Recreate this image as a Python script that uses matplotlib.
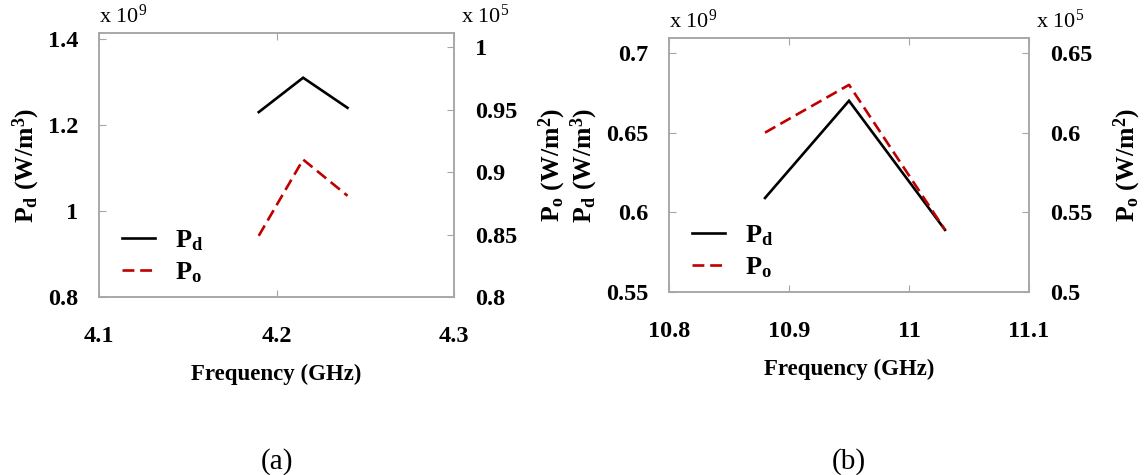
import matplotlib
matplotlib.use("Agg")
import matplotlib.pyplot as plt

plt.rcParams['font.family'] = ['Liberation Serif', 'DejaVu Serif']
plt.rcParams['mathtext.fontset'] = 'custom'
plt.rcParams['mathtext.rm'] = 'Liberation Serif'
plt.rcParams['mathtext.bf'] = 'Liberation Serif:bold'
plt.rcParams['mathtext.it'] = 'Liberation Serif:italic'

# ---- data ----
freq_a = [4.19, 4.215, 4.24]
pd_a = [1.23, 1.31, 1.24]        # x 10^9 W/m^3
po_a = [0.849, 0.910, 0.881]     # x 10^5 W/m^2

freq_b = [10.88, 10.95, 11.03]
pd_b = [0.609, 0.670, 0.589]     # x 10^9 W/m^3
po_b = [0.600, 0.630, 0.539]     # x 10^5 W/m^2

xticks_a = [4.1, 4.2, 4.3]
xticklabels_a = ['4.1', '4.2', '4.3']
yl_ticks_a = [0.8, 1.0, 1.2, 1.4]
yl_labels_a = ['0.8', '1', '1.2', '1.4']
yr_ticks_a = [0.8, 0.85, 0.9, 0.95, 1.0]
yr_labels_a = ['0.8', '0.85', '0.9', '0.95', '1']

xticks_b = [10.8, 10.9, 11.0, 11.1]
xticklabels_b = ['10.8', '10.9', '11', '11.1']
yl_ticks_b = [0.55, 0.6, 0.65, 0.7]
yl_labels_b = ['0.55', '0.6', '0.65', '0.7']
yr_ticks_b = [0.5, 0.55, 0.6, 0.65]
yr_labels_b = ['0.5', '0.55', '0.6', '0.65']

W, H = 1144, 475
fig = plt.figure(figsize=(W / 100, H / 100), dpi=100)

GRAY = '#a6a6a6'
RED = '#c00000'
TICKFS = 17.5
XLABFS = 16.5
YLABFS = 18.5


def box(l, t, r, b):
    return [l / W, 1 - b / H, (r - l) / W, (b - t) / H]


def panel(rect, freq, pd, po, xt, xtl, xlim, ylt, yll, ylim_l, yrt, yrl, ylim_r, label):
    ax = fig.add_axes(rect)
    ax2 = ax.twinx()
    l1, = ax.plot(freq, pd, color='black', lw=1.9, solid_joinstyle='miter')
    l2, = ax2.plot(freq, po, color=RED, lw=1.9, ls=(0, (4.5, 2.2)))
    ax.set_xlim(*xlim)
    ax.set_ylim(*ylim_l)
    ax2.set_ylim(*ylim_r)
    ax.set_xticks(xt)
    ax.set_xticklabels(xtl)
    ax.set_yticks(ylt)
    ax.set_yticklabels(yll)
    ax2.set_yticks(yrt)
    ax2.set_yticklabels(yrl)
    for a in (ax, ax2):
        for s in a.spines.values():
            s.set_color(GRAY)
            s.set_linewidth(1.1)
    ax.tick_params(axis='x', direction='in', length=5, color=GRAY, pad=21,
                   labelsize=TICKFS, top=True)
    ax.tick_params(axis='y', direction='in', length=5, color=GRAY, pad=15,
                   labelsize=TICKFS)
    ax2.tick_params(axis='y', direction='in', length=5, color=GRAY, pad=15,
                    labelsize=TICKFS)
    for t in ax.get_xticklabels() + ax.get_yticklabels() + ax2.get_yticklabels():
        t.set_fontweight('bold')
    ax.set_xlabel('Frequency (GHz)', fontsize=XLABFS, fontweight='bold', labelpad=12)
    ax.set_ylabel(r'$\mathbf{P_d}$' + ' (W/m' + r'$^\mathbf{3}$' + ')', fontsize=YLABFS,
                  fontweight='bold', labelpad=4)
    ax2.set_ylabel(r'$\mathbf{P_o}$' + ' (W/m' + r'$^\mathbf{2}$' + ')', fontsize=YLABFS,
                   fontweight='bold', labelpad=14)
    ax.text(0.0, 1.02, r'x 10$^9$', transform=ax.transAxes, fontsize=16,
            ha='left', va='bottom')
    ax.text(1.02, 1.02, r'x 10$^5$', transform=ax.transAxes, fontsize=16,
            ha='left', va='bottom')
    ax.legend([l1, l2], [r'$\mathbf{P_d}$', r'$\mathbf{P_o}$'],
              loc='lower left', frameon=False, fontsize=19,
              handlelength=1.25, handletextpad=0.75, labelspacing=0.3,
              borderaxespad=0.0, bbox_to_anchor=(0.035, 0.005))
    fig.text(rect[0] + rect[2] / 2, 1 - 462 / H, label, ha='center', va='center',
             fontsize=21)
    return ax, ax2


panel(box(99, 33, 454, 297), freq_a, pd_a, po_a, xticks_a, xticklabels_a, (4.1, 4.3),
      yl_ticks_a, yl_labels_a, (0.8, 1.414), yr_ticks_a, yr_labels_a, (0.8, 1.0113), '(a)')
panel(box(669, 38, 1029, 292), freq_b, pd_b, po_b, xticks_b, xticklabels_b, (10.8, 11.1),
      yl_ticks_b, yl_labels_b, (0.55, 0.7094), yr_ticks_b, yr_labels_b, (0.5, 0.6594), '(b)')

fig.savefig('out.png', dpi=100)
